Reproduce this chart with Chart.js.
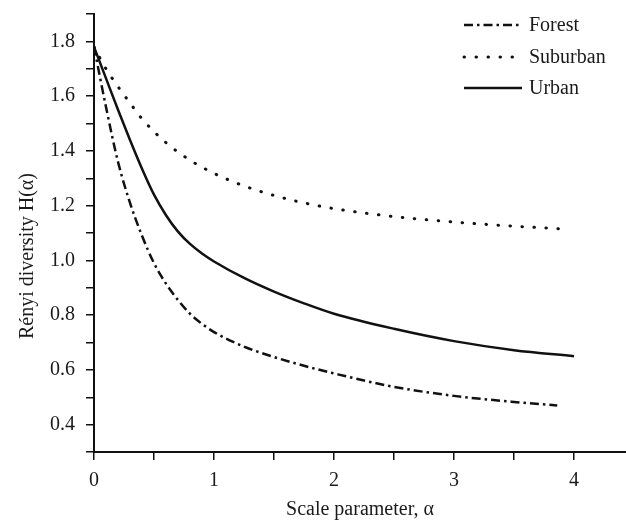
<!DOCTYPE html>
<html>
<head>
<meta charset="utf-8">
<script src="https://cdn.jsdelivr.net/npm/chart.js@4"></script>
<style>
html,body{margin:0;padding:0;background:#fff;}
#wrap{width:626px;height:522px;}
</style>
</head>
<body>
<div id="wrap"><canvas id="c" width="626" height="522"></canvas></div>
<script>
// ---- data ----
const seriesNames = ['Forest', 'Suburban', 'Urban'];

const forestAlpha = [0, 0.1, 0.2, 0.3, 0.4, 0.5, 0.6, 0.7, 0.8, 0.9, 1.0, 1.25, 1.5, 1.75, 2.0, 2.5, 3.0, 3.5, 3.86];
const forestH     = [1.78, 1.56, 1.36, 1.21, 1.09, 0.99, 0.915, 0.855, 0.805, 0.768, 0.738, 0.685, 0.647, 0.615, 0.587, 0.538, 0.505, 0.483, 0.47];

const suburbanAlpha = [0, 0.1, 0.2, 0.3, 0.4, 0.6, 0.8, 1.0, 1.25, 1.5, 1.75, 2.0, 2.5, 3.0, 3.5, 3.9];
const suburbanH     = [1.78, 1.70, 1.635, 1.575, 1.517, 1.43, 1.366, 1.318, 1.272, 1.237, 1.21, 1.189, 1.16, 1.14, 1.125, 1.115];

const urbanAlpha = [0, 0.1, 0.2, 0.3, 0.4, 0.5, 0.6, 0.7, 0.8, 0.9, 1.0, 1.25, 1.5, 1.75, 2.0, 2.5, 3.0, 3.5, 4.0];
const urbanH     = [1.78, 1.665, 1.55, 1.44, 1.335, 1.24, 1.165, 1.105, 1.06, 1.025, 0.996, 0.936, 0.886, 0.843, 0.805, 0.75, 0.705, 0.672, 0.65];

const xTickValues = [0, 1, 2, 3, 4];
const xTickLabels = ['0', '1', '2', '3', '4'];
const yTickValues = [0.4, 0.6, 0.8, 1.0, 1.2, 1.4, 1.6, 1.8];
const yTickLabels = ['0.4', '0.6', '0.8', '1.0', '1.2', '1.4', '1.6', '1.8'];

const xTitle = 'Scale parameter, α';
const yTitle = 'Rényi diversity H(α)';

function pts(a, h) { return a.map((x, i) => ({x: x, y: h[i]})); }

const INK = '#111';
const TEXT = '#1a1a1a';
const FONT = "'Liberation Serif', 'Times New Roman', serif";

const styles = [
  {borderDash: [9, 4, 2.5, 4], borderWidth: 2.5, borderCapStyle: 'butt'},
  {borderDash: [0.5, 11.5], borderWidth: 3, borderCapStyle: 'round'},
  {borderDash: [], borderWidth: 2.5, borderCapStyle: 'butt'}
];

const datasets = [pts(forestAlpha, forestH), pts(suburbanAlpha, suburbanH), pts(urbanAlpha, urbanH)].map((d, i) => Object.assign({
  label: seriesNames[i],
  data: d,
  borderColor: INK,
  backgroundColor: INK,
  pointRadius: 0,
  fill: false,
  cubicInterpolationMode: 'monotone'
}, styles[i]));

function labelFor(v, vals, labs) {
  for (let i = 0; i < vals.length; i++) if (Math.abs(v - vals[i]) < 1e-6) return labs[i];
  return '';
}

const legendPlugin = {
  id: 'insetLegend',
  afterDraw(chart) {
    const ctx = chart.ctx;
    const rows = [25, 57, 88];
    ctx.save();
    chart.data.datasets.forEach((ds, i) => {
      const y = rows[i];
      ctx.strokeStyle = INK;
      ctx.lineWidth = ds.borderWidth;
      ctx.lineCap = ds.borderCapStyle;
      ctx.setLineDash(ds.borderDash);
      ctx.beginPath();
      ctx.moveTo(464, y);
      ctx.lineTo(522, y);
      ctx.stroke();
      ctx.setLineDash([]);
      ctx.fillStyle = TEXT;
      ctx.font = "20px " + FONT;
      ctx.textBaseline = 'middle';
      ctx.textAlign = 'left';
      ctx.fillText(ds.label, 529, y + 1);
    });
    // y axis title
    ctx.translate(28, 256);
    ctx.rotate(-Math.PI / 2);
    ctx.fillStyle = TEXT;
    ctx.font = "20px " + FONT;
    ctx.textAlign = 'center';
    ctx.textBaseline = 'middle';
    ctx.fillText(yTitle, 0, 0);
    ctx.restore();
  }
};

new Chart(document.getElementById('c'), {
  type: 'line',
  data: {datasets: datasets},
  plugins: [legendPlugin],
  options: {
    responsive: false,
    animation: false,
    devicePixelRatio: 1,
    layout: {padding: {top: 14, right: 0, bottom: 0, left: 0}},
    plugins: {legend: {display: false}, tooltip: {enabled: false}},
    scales: {
      x: {
        type: 'linear',
        min: 0,
        max: 4.433,
        afterFit(s) { s.height = 70; s.paddingLeft = 0; s.paddingRight = 0; },
        border: {display: true, color: INK, width: 2},
        grid: {drawOnChartArea: false, drawTicks: true, tickLength: 8, color: INK, lineWidth: 1.5},
        ticks: {
          stepSize: 0.5, includeBounds: false, autoSkip: false, maxRotation: 0,
          color: TEXT, padding: 9, font: {family: FONT, size: 20},
          callback: v => labelFor(v, xTickValues, xTickLabels)
        },
        title: {display: true, text: xTitle, color: TEXT, font: {family: FONT, size: 20}, padding: {top: 0, bottom: 0}}
      },
      y: {
        type: 'linear',
        min: 0.3,
        max: 1.9,
        afterFit(s) { s.width = 94; s.paddingTop = 0; s.paddingBottom = 0; },
        border: {display: true, color: INK, width: 2},
        grid: {drawOnChartArea: false, drawTicks: true, tickLength: 8, color: INK, lineWidth: 1.5},
        ticks: {
          stepSize: 0.1, autoSkip: false,
          color: TEXT, padding: 11, font: {family: FONT, size: 20},
          callback: v => labelFor(v, yTickValues, yTickLabels)
        },
        title: {display: false, text: yTitle}
      }
    }
  }
});
</script>
</body>
</html>
